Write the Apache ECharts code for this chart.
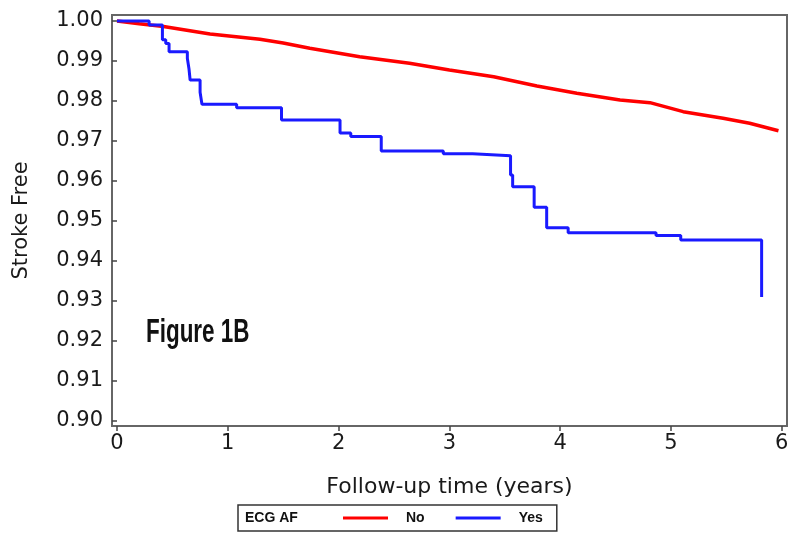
<!DOCTYPE html>
<html>
<head>
<meta charset="utf-8">
<script src="https://cdn.jsdelivr.net/npm/echarts@6/dist/echarts.min.js"></script>
<style>html,body{margin:0;padding:0;background:#fff;}#c{width:800px;height:549px;}</style>
</head>
<body>
<div id="c"></div>
<script>
// Kaplan-Meier "ECG AF = Yes" (blue) step points: time (years) and survival from that time onward
var yesTimes  = [0, 0.29, 0.41, 0.44, 0.47, 0.635, 0.65, 0.66, 0.75, 0.767, 1.08, 1.485, 2.013, 2.11, 2.385, 2.945, 3.21, 3.552, 3.571, 3.765, 3.878, 4.072, 4.865, 5.088, 5.818];
var yesValues = [1.000, 0.9990, 0.9953, 0.9944, 0.9923, 0.9907, 0.9880, 0.98525, 0.9822, 0.9792, 0.9783, 0.97525, 0.9720, 0.9711, 0.9675, 0.9668, 0.9663, 0.9615, 0.95858, 0.95342, 0.94833, 0.94708, 0.9464, 0.94525, 0.9310];
// "ECG AF = No" (red)
var noTimes  = [0, 0.2, 0.42, 0.84, 1.29, 1.5, 1.74, 2.19, 2.64, 3.0, 3.4, 3.79, 4.15, 4.54, 4.81, 5.11, 5.47, 5.71, 5.97];
var noValues = [1.0, 0.9993, 0.9986, 0.99675, 0.99542, 0.9945, 0.99317, 0.99108, 0.98942, 0.98775, 0.98608, 0.98375, 0.98192, 0.98025, 0.97958, 0.97733, 0.97567, 0.97442, 0.97258];
var xTicks = [0, 1, 2, 3, 4, 5, 6];
var yTicks = [0.90, 0.91, 0.92, 0.93, 0.94, 0.95, 0.96, 0.97, 0.98, 0.99, 1.00];

function pairs(ts, vs) { return ts.map(function (t, i) { return [t, vs[i]]; }); }

var chart = echarts.init(document.getElementById('c'));
var labelFont = 'DejaVu Sans';
chart.setOption({
  animation: false,
  backgroundColor: '#fff',
  grid: { left: 112, right: 13, top: 15, bottom: 123, show: true, borderColor: '#666', borderWidth: 2, backgroundColor: '#fff' },
  xAxis: {
    type: 'value', min: -0.045, max: 6.047,
    name: 'Follow-up time (years)', nameLocation: 'middle', nameGap: 50,
    nameTextStyle: { fontFamily: labelFont, fontSize: 22, color: '#1a1a1a' },
    axisLine: { show: false },
    splitLine: { show: false },
    axisTick: { show: true, customValues: xTicks, length: 5, lineStyle: { color: '#444', width: 1.5 } },
    axisLabel: { customValues: xTicks, margin: 7, fontFamily: labelFont, fontSize: 21, color: '#1a1a1a' }
  },
  yAxis: {
    type: 'value', min: 0.89875, max: 1.0015,
    name: 'Stroke Free', nameLocation: 'middle', nameGap: 80, nameRotate: 90,
    nameTextStyle: { fontFamily: labelFont, fontSize: 21, color: '#1a1a1a' },
    axisLine: { show: false },
    splitLine: { show: false },
    axisTick: { show: true, customValues: yTicks, length: 5, lineStyle: { color: '#444', width: 1.5 } },
    axisLabel: { customValues: yTicks, margin: 9, fontFamily: labelFont, fontSize: 21, color: '#1a1a1a',
      formatter: function (v) { return v.toFixed(2); } }
  },
  legend: {
    left: 238, top: 505,
    data: ['No', 'Yes'],
    icon: 'rect', itemWidth: 45, itemHeight: 3, itemGap: 31,
    padding: [6, 14, 6, 105],
    borderColor: '#333', borderWidth: 1.5,
    textStyle: { fontFamily: 'Liberation Sans', fontWeight: 'bold', fontSize: 14, color: '#111', padding: [0, 0, 0, 13] }
  },
  graphic: [
    { type: 'text', left: 245, top: 511, z: 100,
      style: { text: 'ECG AF', font: 'bold 14px "Liberation Sans"', fill: '#111' } },
    { type: 'text', x: 146, y: 316, scaleX: 0.66, z: 100,
      style: { text: 'Figure 1B', font: 'bold 34px "Liberation Sans"', fill: '#111' } }
  ],
  series: [
    { name: 'No', type: 'line', data: pairs(noTimes, noValues), showSymbol: false,
      lineStyle: { color: '#ff0000', width: 3.5 }, itemStyle: { color: '#ff0000' } },
    { name: 'Yes', type: 'line', step: 'end', data: pairs(yesTimes, yesValues), showSymbol: false,
      lineStyle: { color: '#1a1aff', width: 3 }, itemStyle: { color: '#1a1aff' } }
  ]
});
</script>
</body>
</html>
